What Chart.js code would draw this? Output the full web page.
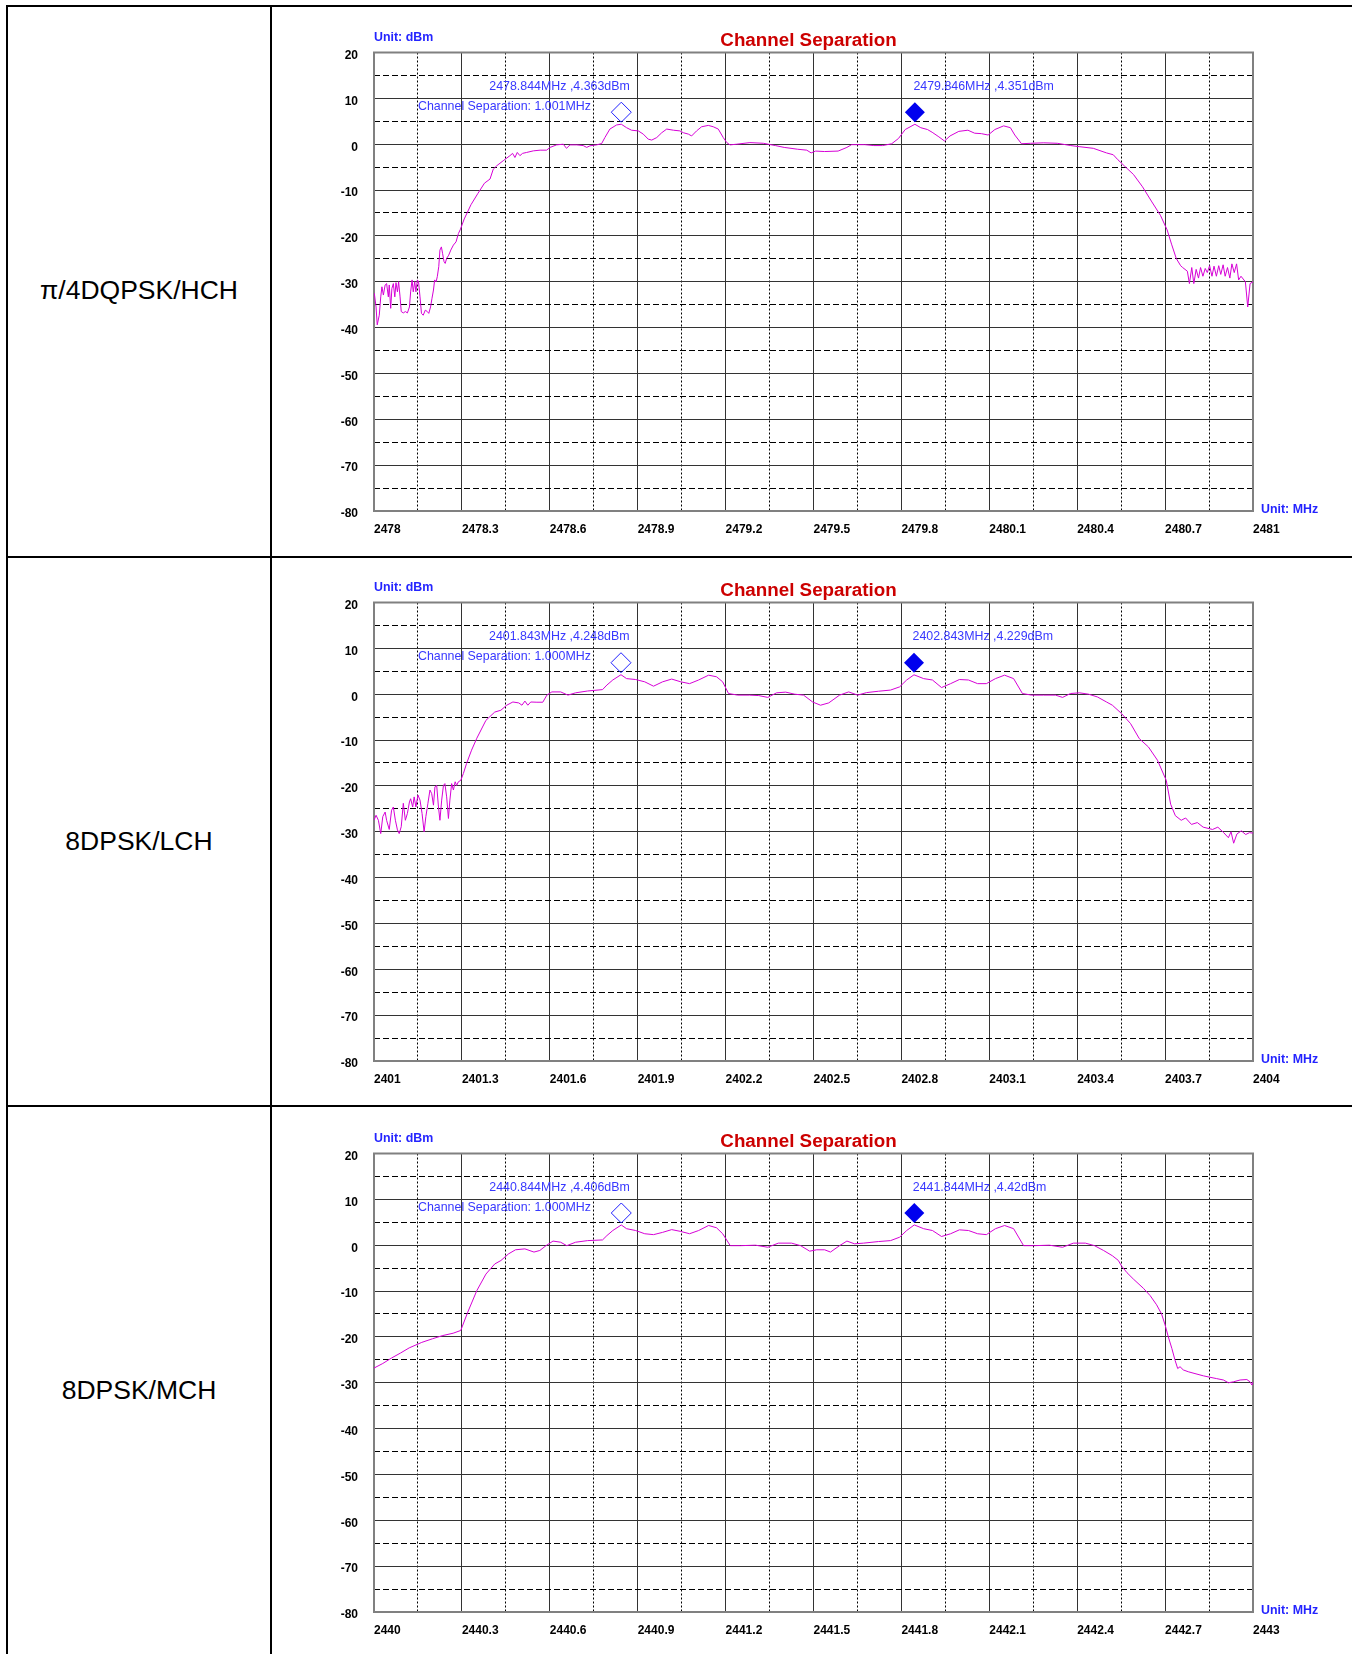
<!DOCTYPE html>
<html>
<head>
<meta charset="utf-8">
<title>Channel Separation</title>
<script src="https://cdn.jsdelivr.net/npm/chart.js@4.4.1/dist/chart.umd.min.js"></script>
<style>
  body { margin: 0; background: #fff; }
  .page { position: relative; width: 1352px; height: 1654px; overflow: hidden; font-family: "Liberation Sans", Arial, sans-serif; }
  .hline { position: absolute; left: 6px; width: 1346px; height: 2px; background: #000; }
  .vline { position: absolute; top: 5px; width: 2px; height: 1649px; background: #000; }
  .mode { position: absolute; left: 8px; width: 262px; text-align: center; font-size: 26.5px; line-height: 30px; color: #000; }
  .panel { position: absolute; left: 272px; }
</style>
</head>
<body>
<div class="page">
  <div class="hline" style="top:5px"></div>
  <div class="hline" style="top:556px"></div>
  <div class="hline" style="top:1105px"></div>
  <div class="vline" style="left:6px"></div>
  <div class="vline" style="left:270px"></div>

  <div class="mode" style="top:275px">π/4DQPSK/HCH</div>
  <div class="mode" style="top:826px">8DPSK/LCH</div>
  <div class="mode" style="top:1375px">8DPSK/MCH</div>

  <canvas class="panel" id="hch" width="1080" height="548" style="top:7px"></canvas>
  <canvas class="panel" id="lch" width="1080" height="548" style="top:557px"></canvas>
  <canvas class="panel" id="mch" width="1080" height="548" style="top:1108px"></canvas>
</div>

<script>
    // Shared level axis
    const yTicks = [-80, -70, -60, -50, -40, -30, -20, -10, 0, 10, 20];
    const yTickLabels = ['-80', '-70', '-60', '-50', '-40', '-30', '-20', '-10', '0', '10', '20'];

    // pi/4DQPSK high channel
    const hchTicks = [2478, 2478.3, 2478.6, 2478.9, 2479.2, 2479.5, 2479.8, 2480.1, 2480.4, 2480.7, 2481];
    const hchTickLabels = ['2478', '2478.3', '2478.6', '2478.9', '2479.2', '2479.5', '2479.8', '2480.1', '2480.4', '2480.7', '2481'];
    const hchFreq = [2478.001, 2478.007, 2478.011, 2478.018, 2478.023, 2478.027, 2478.032, 2478.038, 2478.043, 2478.049,
        2478.052, 2478.057, 2478.061, 2478.066, 2478.071, 2478.075, 2478.080, 2478.084, 2478.089, 2478.093,
        2478.100, 2478.107, 2478.114, 2478.121, 2478.125, 2478.130, 2478.134, 2478.139, 2478.143, 2478.148,
        2478.152, 2478.157, 2478.162, 2478.168, 2478.175, 2478.182, 2478.187, 2478.193, 2478.198, 2478.203,
        2478.207, 2478.212, 2478.216, 2478.221, 2478.225, 2478.230, 2478.234, 2478.239, 2478.243, 2478.248,
        2478.255, 2478.262, 2478.271, 2478.280, 2478.288, 2478.294, 2478.308, 2478.331, 2478.354, 2478.377,
        2478.396, 2478.407, 2478.419, 2478.441, 2478.464, 2478.473, 2478.481, 2478.489, 2478.498, 2478.507,
        2478.521, 2478.544, 2478.567, 2478.589, 2478.601, 2478.623, 2478.646, 2478.657, 2478.669, 2478.692,
        2478.714, 2478.726, 2478.737, 2478.760, 2478.777, 2478.788, 2478.805, 2478.828, 2478.844, 2478.862,
        2478.879, 2478.902, 2478.919, 2478.936, 2478.948, 2478.965, 2478.982, 2478.999, 2479.022, 2479.044,
        2479.056, 2479.073, 2479.084, 2479.101, 2479.118, 2479.141, 2479.158, 2479.175, 2479.192, 2479.204,
        2479.215, 2479.238, 2479.283, 2479.329, 2479.370, 2479.400, 2479.446, 2479.477, 2479.492, 2479.507,
        2479.538, 2479.584, 2479.614, 2479.630, 2479.675, 2479.706, 2479.736, 2479.767, 2479.790, 2479.813,
        2479.846, 2479.866, 2479.889, 2479.905, 2479.928, 2479.947, 2479.966, 2479.996, 2480.027, 2480.050,
        2480.073, 2480.096, 2480.119, 2480.149, 2480.172, 2480.187, 2480.210, 2480.241, 2480.286, 2480.332,
        2480.378, 2480.409, 2480.455, 2480.500, 2480.523, 2480.539, 2480.562, 2480.592, 2480.623, 2480.653,
        2480.684, 2480.707, 2480.722, 2480.738, 2480.753, 2480.760, 2480.776, 2480.783, 2480.791, 2480.798,
        2480.806, 2480.814, 2480.821, 2480.829, 2480.837, 2480.844, 2480.852, 2480.860, 2480.867, 2480.875,
        2480.883, 2480.890, 2480.898, 2480.905, 2480.913, 2480.921, 2480.928, 2480.936, 2480.944, 2480.951,
        2480.959, 2480.974, 2480.982, 2480.990, 2481.000];
    const hchLevel = [-32.5, -35.5, -39.4, -37.3, -33.3, -31.1, -32.9, -30.7, -30.4, -33.3,
        -30.7, -35.8, -31.5, -30.4, -33.3, -30.2, -32.2, -30.0, -33.3, -36.5,
        -36.8, -36.5, -36.8, -35.5, -32.2, -29.6, -32.2, -30.0, -32.2, -29.6,
        -30.0, -33.3, -36.9, -37.3, -36.2, -36.5, -36.9, -35.5, -33.6, -31.8,
        -29.6, -30.0, -28.9, -26.7, -23.1, -22.4, -23.8, -25.6, -26.0, -24.9,
        -24.2, -23.1, -22.0, -21.3, -19.5, -18.7, -16.3, -13.2, -10.8, -8.5,
        -7.6, -5.45, -4.7, -3.6, -2.5, -2.0, -2.9, -1.8, -2.5, -2.0,
        -1.8, -1.45, -1.3, -1.3, -0.7, -0.15, 0, -0.9, -0.15, -0.15,
        -0.3, -0.7, -0.35, -0.15, 0.15, 1.45, 3.3, 4.2, 4.36, 3.6,
        3.05, 2.9, 2.2, 1.1, 0.9, 1.45, 2.5, 3.3, 3.05, 2.9,
        2.5, 2.2, 1.8, 2.9, 3.8, 4.1, 3.8, 3.3, 1.45, 0.35,
        -0.15, 0, 0.35, 0.2, -0.3, -0.7, -1.1, -1.3, -1.9, -1.5,
        -1.6, -1.5, -0.7, -0.1, -0.1, -0.3, -0.3, 0.1, 1.25, 3.2,
        4.35, 3.6, 3.2, 2.6, 1.6, 0.7, 1.8, 2.8, 3.05, 2.4,
        2.3, 2.0, 3.2, 4.0, 3.6, 2.0, 0.1, 0.2, 0.3, 0.2,
        -0.3, -0.55, -0.9, -1.9, -2.3, -3.4, -4.8, -6.6, -9.3, -12.4,
        -15.5, -18.7, -21.8, -24.9, -26.5, -26.9, -27.7, -30.4, -26.9, -30.4,
        -27.3, -29.2, -26.9, -28.8, -27.1, -28.0, -26.5, -28.8, -26.6, -28.8,
        -26.5, -28.4, -26.3, -28.8, -26.9, -29.2, -26.1, -28.0, -26.1, -29.6,
        -28.8, -30.0, -35.5, -30.4, -30.0];
    const hchMarkerFreq = [2478.844, 2479.846];
    const hchMarkerLevel = [4.363, 4.351];
    const hchSeparation = 1.001;

    // 8DPSK low channel
    const lchTicks = [2401, 2401.3, 2401.6, 2401.9, 2402.2, 2402.5, 2402.8, 2403.1, 2403.4, 2403.7, 2404];
    const lchTickLabels = ['2401', '2401.3', '2401.6', '2401.9', '2402.2', '2402.5', '2402.8', '2403.1', '2403.4', '2403.7', '2404'];
    const lchFreq = [2401.000, 2401.007, 2401.015, 2401.023, 2401.030, 2401.038, 2401.043, 2401.052, 2401.060, 2401.066,
        2401.073, 2401.080, 2401.086, 2401.093, 2401.100, 2401.107, 2401.114, 2401.121, 2401.125, 2401.132,
        2401.137, 2401.143, 2401.150, 2401.157, 2401.164, 2401.171, 2401.177, 2401.184, 2401.191, 2401.197,
        2401.203, 2401.208, 2401.214, 2401.220, 2401.225, 2401.231, 2401.237, 2401.242, 2401.248, 2401.254,
        2401.259, 2401.265, 2401.271, 2401.277, 2401.282, 2401.288, 2401.296, 2401.305, 2401.316, 2401.333,
        2401.351, 2401.382, 2401.412, 2401.433, 2401.453, 2401.474, 2401.494, 2401.505, 2401.515, 2401.525,
        2401.535, 2401.556, 2401.576, 2401.590, 2401.607, 2401.637, 2401.662, 2401.688, 2401.729, 2401.780,
        2401.795, 2401.815, 2401.843, 2401.862, 2401.893, 2401.924, 2401.954, 2401.985, 2402.016, 2402.047,
        2402.077, 2402.108, 2402.142, 2402.169, 2402.190, 2402.210, 2402.241, 2402.282, 2402.313, 2402.344,
        2402.374, 2402.405, 2402.436, 2402.466, 2402.497, 2402.524, 2402.552, 2402.589, 2402.620, 2402.651,
        2402.681, 2402.722, 2402.763, 2402.794, 2402.818, 2402.843, 2402.876, 2402.906, 2402.937, 2402.968,
        2402.998, 2403.029, 2403.060, 2403.090, 2403.121, 2403.152, 2403.183, 2403.213, 2403.244, 2403.285,
        2403.326, 2403.350, 2403.377, 2403.408, 2403.439, 2403.469, 2403.500, 2403.520, 2403.551, 2403.582,
        2403.612, 2403.643, 2403.674, 2403.704, 2403.719, 2403.735, 2403.755, 2403.770, 2403.790, 2403.810,
        2403.830, 2403.862, 2403.880, 2403.900, 2403.916, 2403.925, 2403.934, 2403.945, 2403.960, 2403.975,
        2403.988, 2404.000];
    const lchLevel = [-27.5, -26.4, -27.5, -30.4, -26.7, -25.7, -27.5, -29.5, -25.3, -24.6,
        -27.5, -29.6, -30.4, -28.9, -23.8, -27.5, -26.0, -23.5, -22.8, -24.6,
        -22.4, -24.6, -22.0, -23.1, -26.0, -30.0, -26.7, -23.8, -20.9, -21.7,
        -24.2, -20.2, -19.9, -24.6, -27.5, -23.1, -19.9, -19.5, -22.4, -27.1,
        -23.1, -19.5, -20.9, -19.1, -19.9, -19.1, -18.8, -17.3, -15.1, -12.2,
        -9.6, -5.7, -3.9, -3.5, -2.4, -1.7, -1.9, -2.4, -1.5, -2.4,
        -1.7, -1.75, -1.75, -0.2, 0.5, 0.5, -0.2, 0.3, 0.7, 1.0,
        2.0, 3.1, 4.25, 3.4, 3.2, 2.7, 1.75, 2.7, 3.3, 2.7,
        2.3, 3.1, 4.15, 3.8, 2.7, 0.15, -0.2, -0.2, -0.3, -0.7,
        0.3, 0.45, 0, -0.2, -1.7, -2.4, -1.9, -0.2, 0.5, -0.2,
        0.35, 0.65, 0.9, 1.6, 3.1, 4.23, 3.4, 3.1, 1.45, 2.3,
        3.2, 3.1, 2.3, 2.3, 3.4, 4.15, 3.4, 0.15, -0.2, -0.2,
        -0.2, -0.7, 0.15, 0.3, 0, -0.6, -1.7, -2.4, -4.2, -6.4,
        -9.7, -11.5, -14.4, -18.8, -24.0, -26.5, -27.5, -27.0, -28.4, -28.0,
        -29.0, -29.5, -29.0, -30.2, -31.3, -30.0, -32.5, -30.5, -29.8, -30.6,
        -30.2, -30.3];
    const lchMarkerFreq = [2401.843, 2402.843];
    const lchMarkerLevel = [4.248, 4.229];
    const lchSeparation = 1.000;

    // 8DPSK middle channel
    const mchTicks = [2440, 2440.3, 2440.6, 2440.9, 2441.2, 2441.5, 2441.8, 2442.1, 2442.4, 2442.7, 2443];
    const mchTickLabels = ['2440', '2440.3', '2440.6', '2440.9', '2441.2', '2441.5', '2441.8', '2442.1', '2442.4', '2442.7', '2443'];
    const mchFreq = [2440.000, 2440.030, 2440.060, 2440.091, 2440.120, 2440.163, 2440.200, 2440.235, 2440.270, 2440.296,
        2440.320, 2440.351, 2440.382, 2440.412, 2440.433, 2440.459, 2440.483, 2440.515, 2440.546, 2440.566,
        2440.587, 2440.611, 2440.637, 2440.658, 2440.688, 2440.729, 2440.780, 2440.795, 2440.815, 2440.844,
        2440.862, 2440.893, 2440.924, 2440.954, 2440.985, 2441.016, 2441.047, 2441.077, 2441.108, 2441.142,
        2441.169, 2441.190, 2441.216, 2441.251, 2441.302, 2441.344, 2441.380, 2441.425, 2441.456, 2441.487,
        2441.511, 2441.538, 2441.558, 2441.589, 2441.614, 2441.640, 2441.671, 2441.722, 2441.763, 2441.794,
        2441.818, 2441.844, 2441.876, 2441.906, 2441.937, 2441.968, 2441.998, 2442.029, 2442.060, 2442.090,
        2442.121, 2442.152, 2442.183, 2442.217, 2442.254, 2442.305, 2442.350, 2442.387, 2442.428, 2442.459,
        2442.490, 2442.520, 2442.540, 2442.552, 2442.570, 2442.592, 2442.626, 2442.649, 2442.671, 2442.688,
        2442.700, 2442.711, 2442.723, 2442.734, 2442.743, 2442.751, 2442.762, 2442.779, 2442.802, 2442.831,
        2442.853, 2442.876, 2442.899, 2442.916, 2442.933, 2442.956, 2442.979, 2442.990, 2442.996, 2443.000];
    const mchLevel = [-26.8, -25.8, -24.6, -23.5, -22.4, -21.2, -20.4, -19.7, -19.2, -18.6,
        -14.6, -9.9, -6.3, -4.1, -3.35, -1.9, -1.0, -0.8, -1.5, -1.15,
        -0.1, 0.9, 0.65, -0.1, 0.65, 1.0, 1.15, 2.1, 3.2, 4.41,
        3.6, 3.2, 2.5, 2.3, 2.8, 3.4, 3.0, 2.5, 3.2, 4.3,
        3.8, 2.5, -0.1, -0.1, 0, -0.45, 0.45, 0.45, -0.1, -1.3,
        -1.0, -1.0, -1.5, -0.1, 0.9, 0.3, 0.45, 0.8, 1.0, 1.75,
        3.2, 4.42, 3.6, 3.2, 1.9, 2.5, 3.35, 3.2, 2.5, 2.3,
        3.6, 4.3, 3.6, -0.1, -0.1, 0, -0.45, 0.45, 0.45, -0.1,
        -1.15, -2.3, -3.3, -4.6, -6.0, -7.4, -9.4, -11.0, -13.0, -15.0,
        -17.4, -20.0, -22.5, -25.1, -26.9, -26.5, -27.2, -27.6, -28.0, -28.5,
        -28.8, -29.1, -29.4, -30.0, -29.8, -29.4, -29.3, -29.8, -30.5, -29.8];
    const mchMarkerFreq = [2440.844, 2441.844];
    const mchMarkerLevel = [4.406, 4.42];
    const mchSeparation = 1.000;

    const FONT = '"Liberation Sans", Arial, sans-serif';

    // Frame, headings and the two delta markers
    const overlay = {
        id: 'overlay',
        beforeDatasetsDraw(chart) {
            const {ctx, chartArea: a} = chart;
            ctx.save();
            ctx.strokeStyle = '#808080';
            ctx.lineWidth = 2;
            ctx.strokeRect(a.left, a.top, a.right - a.left, a.bottom - a.top);
            ctx.restore();
        },
        afterDraw(chart, args, o) {
            const {ctx, chartArea: a, scales: {x, y}} = chart;
            ctx.save();
            ctx.textBaseline = 'middle';
            ctx.textAlign = 'left';
            ctx.font = 'bold 12.4px ' + FONT;
            ctx.fillStyle = '#2424ff';
            ctx.fillText('Unit: dBm', a.left, a.top - 15);
            ctx.fillText('Unit: MHz', a.right + 8, a.bottom - 1);

            ctx.font = 'bold 18.8px ' + FONT;
            ctx.fillStyle = '#cc0000';
            ctx.textAlign = 'center';
            ctx.fillText('Channel Separation', (a.left + a.right) / 2 - 5, a.top - 12);

            ctx.font = '12.4px ' + FONT;
            ctx.textAlign = 'left';
            o.freq.forEach((f, i) => {
                const px = x.getPixelForValue(f);
                const py = y.getPixelForValue(o.level[i]) - 12;
                ctx.beginPath();
                ctx.moveTo(px, py - 10);
                ctx.lineTo(px + 10, py);
                ctx.lineTo(px, py + 10);
                ctx.lineTo(px - 10, py);
                ctx.closePath();
                if (i === 0) {
                    ctx.strokeStyle = '#2020ff';
                    ctx.lineWidth = 1;
                    ctx.stroke();
                } else {
                    ctx.fillStyle = '#0000ee';
                    ctx.fill();
                }
                ctx.fillStyle = '#3838ff';
                ctx.fillText(f + 'MHz ,' + o.level[i] + 'dBm', i === 0 ? px - 132 : px - 1.5, a.top + 34);
            });
            ctx.fillText('Channel Separation: ' + o.sep.toFixed(3) + 'MHz', a.left + 44, a.top + 54);
            ctx.restore();
        }
    };

    function makeChart(id, freq, level, ticks, tickLabels, markerFreq, markerLevel, sep) {
        // half-way grid lines (dotted / dashed)
        const xMinor = ticks.slice(1).map((v, i) => (v + ticks[i]) / 2);
        const yMinor = yTicks.slice(1).map((v, i) => (v + yTicks[i]) / 2);
        const tickFont = {family: FONT, size: 12, weight: 'bold'};

        return new Chart(document.getElementById(id), {
            type: 'line',
            data: {
                datasets: [{
                    data: freq.map((f, i) => ({x: f, y: level[i]})),
                    borderColor: '#d600d6',
                    borderWidth: 1,
                    pointRadius: 0,
                    tension: 0
                }]
            },
            options: {
                responsive: false,
                animation: false,
                devicePixelRatio: 1,
                layout: {autoPadding: false, padding: {left: 0, right: 99, top: 45.5, bottom: 0}},
                plugins: {
                    legend: {display: false},
                    tooltip: {enabled: false},
                    overlay: {freq: markerFreq, level: markerLevel, sep: sep}
                },
                scales: {
                    x: {
                        type: 'linear',
                        min: ticks[0],
                        max: ticks[ticks.length - 1],
                        afterBuildTicks: s => { s.ticks = ticks.map(v => ({value: v})); },
                        afterFit: s => { s.height = 44; s.paddingLeft = 0; s.paddingRight = 0; },
                        ticks: {
                            callback: (v, i) => tickLabels[i],
                            align: 'start',
                            autoSkip: false,
                            maxRotation: 0,
                            padding: 11.5,
                            color: '#000',
                            font: tickFont
                        },
                        grid: {color: '#333', lineWidth: 1, drawTicks: false},
                        border: {display: false}
                    },
                    xMinor: {
                        type: 'linear',
                        axis: 'x',
                        position: 'bottom',
                        min: ticks[0],
                        max: ticks[ticks.length - 1],
                        afterBuildTicks: s => { s.ticks = xMinor.map(v => ({value: v})); },
                        afterFit: s => { s.height = 0; s.paddingLeft = 0; s.paddingRight = 0; },
                        ticks: {display: false},
                        grid: {color: '#000', lineWidth: 1, drawTicks: false},
                        border: {display: false, dash: [2, 2]}
                    },
                    y: {
                        type: 'linear',
                        min: yTicks[0],
                        max: yTicks[yTicks.length - 1],
                        afterBuildTicks: s => { s.ticks = yTicks.map(v => ({value: v})); },
                        afterFit: s => { s.width = 102; s.paddingTop = 0; s.paddingBottom = 0; },
                        ticks: {
                            callback: (v, i) => yTickLabels[i],
                            padding: 16,
                            labelOffset: 3,
                            color: '#000',
                            font: tickFont
                        },
                        grid: {color: '#333', lineWidth: 1, drawTicks: false},
                        border: {display: false}
                    },
                    yMinor: {
                        type: 'linear',
                        axis: 'y',
                        position: 'left',
                        min: yTicks[0],
                        max: yTicks[yTicks.length - 1],
                        afterBuildTicks: s => { s.ticks = yMinor.map(v => ({value: v})); },
                        afterFit: s => { s.width = 0; s.paddingTop = 0; s.paddingBottom = 0; },
                        ticks: {display: false},
                        grid: {color: '#000', lineWidth: 1, drawTicks: false},
                        border: {display: false, dash: [6, 3]}
                    }
                }
            },
            plugins: [overlay]
        });
    }

    makeChart('hch', hchFreq, hchLevel, hchTicks, hchTickLabels, hchMarkerFreq, hchMarkerLevel, hchSeparation);
    makeChart('lch', lchFreq, lchLevel, lchTicks, lchTickLabels, lchMarkerFreq, lchMarkerLevel, lchSeparation);
    makeChart('mch', mchFreq, mchLevel, mchTicks, mchTickLabels, mchMarkerFreq, mchMarkerLevel, mchSeparation);
</script>
</body>
</html>
